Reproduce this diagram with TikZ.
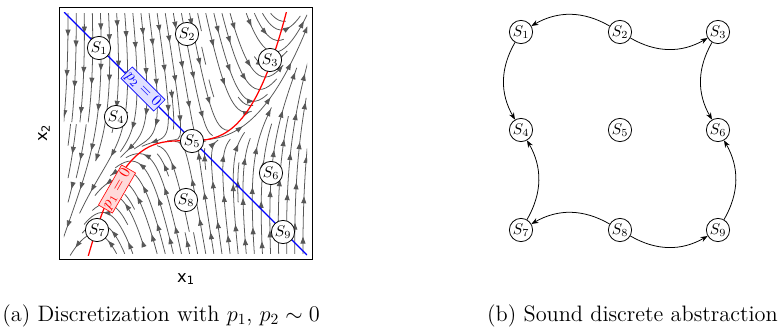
\documentclass[tikz,border=0pt]{standalone}
\usepackage{amsmath}
\usepackage{fontspec}
\newfontfamily\mplfont{DejaVu Sans}
\usetikzlibrary{arrows.meta,decorations.markings}

% Feld: u' = u + v, v' = -k (v - m u^3 - d)
\def\fm{1.85}
\def\fd{-0.06}
\def\fk{5}
\def\fh{0.03}
\newif\ifgo
\newcount\lc
\newcommand\trace[3]{%
    \pgfmathsetmacro\su{#1}\pgfmathsetmacro\sv{#2}%
    \edef\pts{(\su,\sv)}\def\np{0}%
    \gotrue
    \loop
        \pgfmathsetmacro\fa{#3*(\su+\sv)}%
        \pgfmathsetmacro\fb{-#3*\fk*(\sv-\fm*\su*\su*\su-\fd)}%
        \pgfmathsetmacro\fn{\fh/(sqrt(\fa*\fa+\fb*\fb)+0.0001)}%
        \pgfmathsetmacro\hu{\su+0.5*\fa*\fn}%
        \pgfmathsetmacro\hv{\sv+0.5*\fb*\fn}%
        \pgfmathsetmacro\fa{#3*(\hu+\hv)}%
        \pgfmathsetmacro\fb{-#3*\fk*(\hv-\fm*\hu*\hu*\hu-\fd)}%
        \pgfmathsetmacro\fn{\fh/(sqrt(\fa*\fa+\fb*\fb)+0.0001)}%
        \pgfmathsetmacro\su{\su+\fa*\fn}%
        \pgfmathsetmacro\sv{\sv+\fb*\fn}%
        \edef\pts{\pts (\su,\sv)}%
        \pgfmathtruncatemacro\np{\np+1}%
        \pgfmathtruncatemacro\ok{(abs(\su)<1)&&(abs(\sv)<1)&&(\np<90)}%
        \ifnum\ok=0 \gofalse\else
            \pgfmathtruncatemacro\ci{floor((\su+1)*15)}%
            \pgfmathtruncatemacro\cj{floor((\sv+1)*15)}%
            \ifcsname oc@\ci @\cj\endcsname
                \edef\cur{\csname oc@\ci @\cj\endcsname}%
                \ifx\cur\lid\else\gofalse\fi
            \else
                \expandafter\xdef\csname oc@\ci @\cj\endcsname{\lid}%
            \fi
        \fi
    \ifgo\repeat
    \pgfmathsetmacro\ph{mod(\lc*7,16)+8}%
    \ifnum\np>4
        \ifnum#3=1 \def\fst{flow}\else\def\fst{flowback}\fi
        \edef\cmd{\noexpand\draw[\fst] plot coordinates {\pts};}\cmd
    \fi}
\newcommand\seed[3]{%
    \pgfmathtruncatemacro\ci{floor((#1+1)*15)}%
    \pgfmathtruncatemacro\cj{floor((#2+1)*15)}%
    \ifcsname oc@\ci @\cj\endcsname\else
        \global\advance\lc by 1
        \edef\lid{\the\lc}%
        \expandafter\xdef\csname oc@\ci @\cj\endcsname{\lid}%
        \trace{#1}{#2}{1}%
        \ifnum#3=1 \trace{#1}{#2}{-1}\fi
    \fi}

\begin{document}
\begin{tikzpicture}[x=0.645pt,y=-0.645pt,
    state/.style={circle,draw,line width=0.5pt,fill=white,inner sep=0.4pt,minimum size=15pt},
    flow/.style={color=black!66,line width=0.5pt,postaction={decorate},
      decoration={markings,mark=between positions \ph pt and 1 step 26pt with {\arrow{Triangle[length=4.4pt,width=3.2pt]}}}},
    flowback/.style={color=black!66,line width=0.5pt,postaction={decorate},
      decoration={markings,mark=between positions \ph pt and 1 step 26pt with {\arrowreversed{Triangle[length=4.4pt,width=3.2pt]}}}},
    trans/.style={-{Stealth[length=4.5pt,width=3.4pt]},line width=0.5pt,bend right=30},
    caption/.style={inner sep=0pt,font=\fontsize{14.4}{17}\selectfont}]
    \useasboundingbox (0,0) rectangle (779,334);

    \begin{scope}[shift={(185.5,133.5)},x=78.37pt,y=78.37pt]
        \clip (-1,-1) rectangle (1,1);
        % Startpunkte am oberen und unteren Rand
        \foreach \k in {0,...,29} {
            \pgfmathsetmacro\uu{-1+(\k+0.5)/15}
            \pgfmathtruncatemacro\ok{0.99>\fm*\uu*\uu*\uu+\fd}
            \ifnum\ok=1 \seed{\uu}{0.99}{0}\fi
        }
        \foreach \k in {0,...,29} {
            \pgfmathsetmacro\uu{-1+(\k+0.5)/15}
            \pgfmathtruncatemacro\ok{-0.99<\fm*\uu*\uu*\uu+\fd}
            \ifnum\ok=1 \seed{\uu}{-0.99}{0}\fi
        }
        % freie Zellen auffuellen
        \foreach \i in {0,...,29} {
            \foreach \j in {0,...,29} {
                \ifcsname oc@\i @\j\endcsname\else
                    \seed{-1+(\i+0.5)/15}{-1+(\j+0.5)/15}{1}
                \fi
            }
        }
        \draw[red,line width=0.8pt] plot[domain=-0.9:0.9,samples=80] (\x,{\fd+\fm*\x*\x*\x});
        \draw[blue,line width=0.8pt] (-1,1) -- (1,-1);
    \end{scope}

    \draw[line width=0.6pt] (59,7) rectangle (312,259);
    \node[font=\mplfont\fontsize{10.5}{12}\selectfont] (xa) at (186,279) {x\textsubscript{1}};
    \node[font=\mplfont\fontsize{10.5}{12}\selectfont,rotate=90] (xb) at (44,133) {x\textsubscript{2}};

    \node[draw=blue,fill=blue!12,text=blue,rotate=-45,inner sep=1pt] (pb) at (143,89) {$p_2 = 0$};
    \node[draw=red,fill=red!15,text=red,rotate=60,inner sep=1pt] (pr) at (117,189) {$p_1 = 0$};

    \node[state] (a1) at (99,48) {$S_1$};
    \node[state] (a2) at (187,34) {$S_2$};
    \node[state] (a3) at (270,60) {$S_3$};
    \node[state] (a4) at (116,117) {$S_4$};
    \node[state] (a5) at (192,141) {$S_5$};
    \node[state] (a6) at (271,173) {$S_6$};
    \node[state] (a7) at (97,230) {$S_7$};
    \node[state] (a8) at (186,200) {$S_8$};
    \node[state] (a9) at (283,232) {$S_9$};

    % Abstraktion
    \node[state] (b1) at (521,32) {$S_1$};
    \node[state] (b2) at (620,32) {$S_2$};
    \node[state] (b3) at (718,32) {$S_3$};
    \node[state] (b4) at (521,130) {$S_4$};
    \node[state] (b5) at (620,130) {$S_5$};
    \node[state] (b6) at (718,130) {$S_6$};
    \node[state] (b7) at (521,230) {$S_7$};
    \node[state] (b8) at (620,230) {$S_8$};
    \node[state] (b9) at (718,230) {$S_9$};

    \draw[trans] (b2) to (b1);
    \draw[trans] (b2) to (b3);
    \draw[trans] (b1) to (b4);
    \draw[trans] (b3) to (b6);
    \draw[trans] (b8) to (b7);
    \draw[trans] (b8) to (b9);
    \draw[trans] (b7) to (b4);
    \draw[trans] (b9) to (b6);

    \node[caption,anchor=west] (ca) at (2,316) {(a) Discretization with $p_1$, $p_2 \sim 0$};
    \node[caption,anchor=east] (cb) at (778,316) {(b) Sound discrete abstraction};
\end{tikzpicture}
\end{document}
